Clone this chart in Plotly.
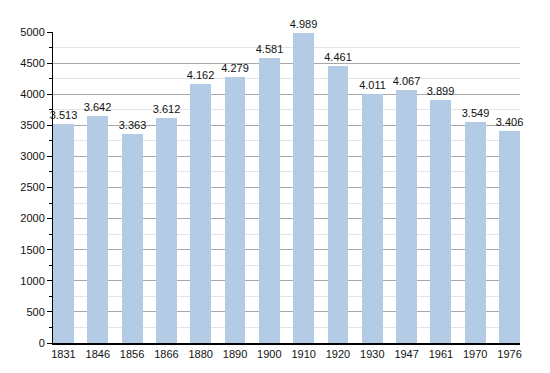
import plotly.graph_objects as go

years = ["1831", "1846", "1856", "1866", "1880", "1890", "1900", "1910", "1920", "1930", "1947", "1961", "1970", "1976"]
population = [3513, 3642, 3363, 3612, 4162, 4279, 4581, 4989, 4461, 4011, 4067, 3899, 3549, 3406]
labels = [f"{v/1000:.3f}" for v in population]
y_ticks = list(range(0, 5001, 500))

xpos = list(range(len(years)))
bw = 21 / 34.5

fig = go.Figure()
fig.add_trace(go.Bar(
    x=xpos, y=population, width=bw,
    marker=dict(color="#b3cbe5", line=dict(width=0)),
    text=labels, textposition="outside", constraintext="none",
    textfont=dict(family="Liberation Sans, Arial", size=11, color="#111"),
    cliponaxis=False,
))
fig.update_layout(
    width=542, height=365,
    margin=dict(l=42, r=30, t=24, b=30),
    plot_bgcolor="white", paper_bgcolor="white",
    showlegend=False,
    font=dict(family="Liberation Sans, Arial", size=11, color="#111"),
    xaxis=dict(
        tickmode="array", tickvals=xpos, ticktext=years,
        range=[-bw / 2, len(years) - 1 + bw / 2],
        showgrid=False, showline=True, linecolor="black", linewidth=1.5,
        ticks="", zeroline=False, tickfont=dict(size=11),
    ),
    yaxis=dict(
        range=[0, 5000], tickmode="array", tickvals=y_ticks,
        ticktext=[str(v) for v in y_ticks],
        showgrid=True, gridcolor="#a8a8a8", gridwidth=1,
        showline=True, linecolor="black", linewidth=1,
        ticks="outside", ticklen=5, tickcolor="black",
        minor=dict(dtick=250, showgrid=True, gridcolor="#e4e4e4", gridwidth=1,
                   ticks="outside", ticklen=3, tickcolor="black"),
        zeroline=False, tickfont=dict(size=11),
    ),
    bargap=0,
)
fig.write_html("out.html")
